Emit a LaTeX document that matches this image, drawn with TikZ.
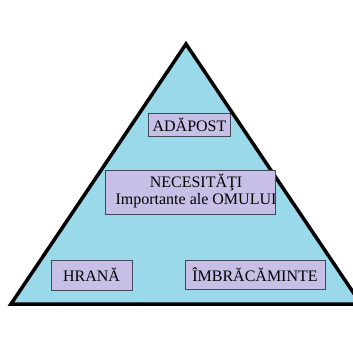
\documentclass[tikz,border=0pt]{standalone}
\usepackage{fontspec}
\setmainfont{Liberation Serif}
\usepackage{xcolor}
\usepackage{tikz}

\definecolor{pyrfill}{RGB}{153,217,234}
\definecolor{boxfill}{RGB}{200,191,231}
\definecolor{boxline}{RGB}{64,72,88}

\tikzset{
  needbox/.style={draw=boxline, line width=1pt, fill=boxfill, inner sep=0pt,
    font=\fontsize{16}{17}\selectfont, text=black},
  needtext/.style={font=\fontsize{16}{17}\selectfont, align=center, text=black, inner sep=0pt}
}

\begin{document}
\begin{tikzpicture}[x=1pt, y=-1pt]
  \useasboundingbox (0,0) rectangle (353,343);
  \clip (0,0) rectangle (353,343);
  \fill[white] (0,0) rectangle (353,343);

  % pyramid
  \coordinate (apex) at (186,44);
  \coordinate (baseL) at (11,304);
  \coordinate (baseR) at (361,304);
  \draw[line width=3.5pt, line join=miter, fill=pyrfill] (apex) -- (baseR) -- (baseL) -- cycle;

  % boxes
  \node[needbox, minimum width=82pt, minimum height=23pt] (shelter) at (189.5,125) {ADĂPOST};

  \node[needbox, minimum width=170pt, minimum height=44pt] (needs) at (190,192) {};
  \node[needtext] (needsText) at (196,191) {NECESITĂŢI\\Importante ale OMULUI};

  \node[needbox, minimum width=81pt, minimum height=30pt] (food) at (91.5,275) {HRANĂ};
  \node[needbox, minimum width=140pt, minimum height=29pt] (clothes) at (255,274.5) {ÎMBRĂCĂMINTE};
\end{tikzpicture}
\end{document}
